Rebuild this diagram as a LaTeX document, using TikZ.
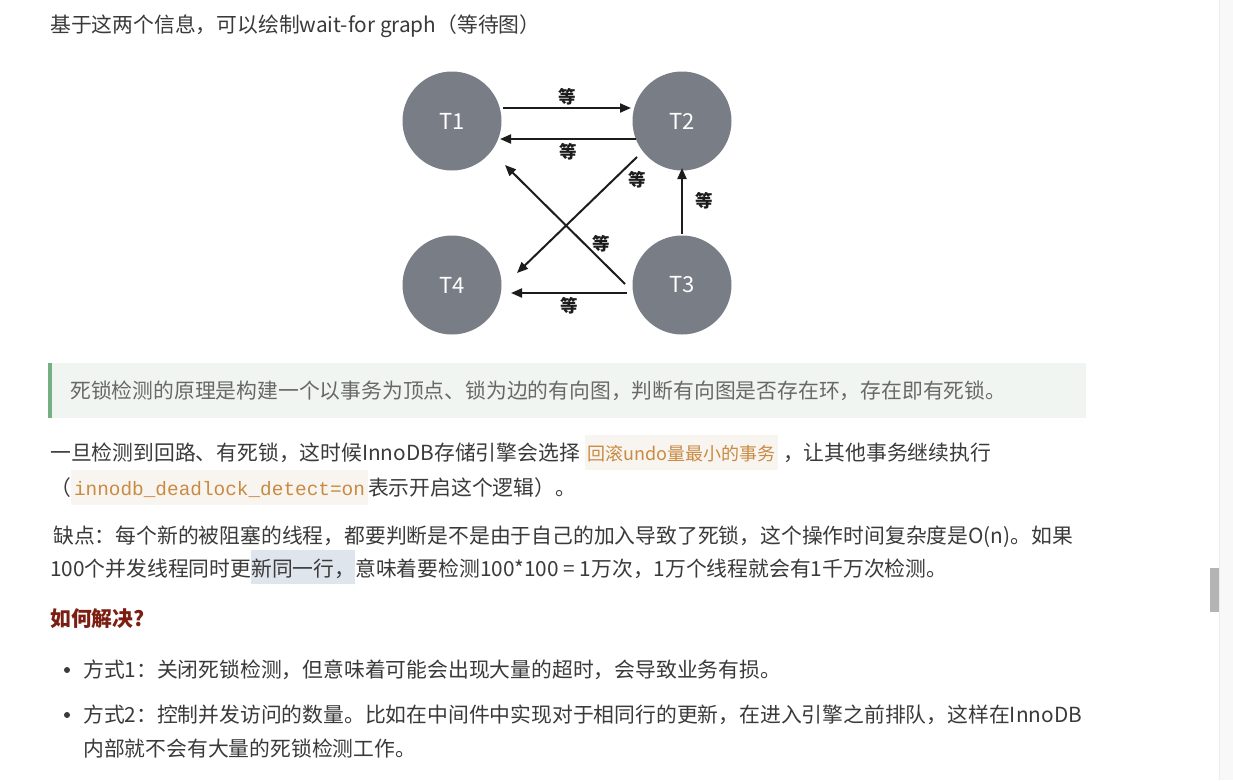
\documentclass[tikz,border=0pt]{standalone}
\usepackage{fontspec}
\setmainfont{Noto Sans CJK SC}
\newfontfamily\monofont{Liberation Mono}
\usepackage{tikz}
\usetikzlibrary{arrows.meta}

\definecolor{maintext}{HTML}{3A3A3A}
\definecolor{quotefg}{HTML}{686868}
\definecolor{quotebg}{HTML}{F1F5F2}
\definecolor{quotebar}{HTML}{74B083}
\definecolor{codebg}{HTML}{F8F5F0}
\definecolor{codefg}{HTML}{C98A42}
\definecolor{selbg}{HTML}{DFE5EC}
\definecolor{heading}{HTML}{7C1E12}
\definecolor{nodegray}{HTML}{797E86}
\definecolor{arrowblack}{HTML}{1C1C1C}
\definecolor{scrollbg}{HTML}{F8F8F8}
\definecolor{scrollline}{HTML}{ECECEC}
\definecolor{thumb}{HTML}{B4B4B4}

% inline code and selected text
\newcommand{\codebox}[1]{{\setlength{\fboxsep}{3pt}\colorbox{codebg}{\rule[-0.34em]{0pt}{1.42em}\color{codefg}#1}}}
\newcommand{\selbox}[1]{{\setlength{\fboxsep}{0pt}\colorbox{selbg}{\rule[-0.38em]{0pt}{1.62em}#1}}}

\begin{document}
\begin{tikzpicture}[x=1pt,y=-1pt,
    txt/.style={anchor=base west,inner sep=0pt,text=maintext,font=\fontsize{20.8}{25}\selectfont},
    trans/.style={circle,fill=nodegray,minimum size=99pt,inner sep=0pt,text=white,font=\fontsize{22}{26}\selectfont},
    wait/.style={-{Triangle[length=11pt,width=9pt]},line width=2pt,draw=arrowblack},
    deng/.style={inner sep=1pt,text=arrowblack,font=\fontsize{17.5}{20}\selectfont\bfseries}]
    \useasboundingbox (0,0) rectangle (1233,780);
    \fill[white] (0,0) rectangle (1233,780);

    % scroll bar
    \fill[scrollbg] (1219,0) rectangle (1233,780);
    \draw[scrollline] (1219,0) -- (1219,780);
    \fill[thumb] (1210,568) rectangle (1219,612);

    \node[txt] (intro) at (50,32) {基于这两个信息，可以绘制wait-for graph（等待图）};

    % wait-for graph
    \node[trans] (T1) at (452,121) {T1};
    \node[trans] (T2) at (682,121) {T2};
    \node[trans] (T3) at (682,285) {T3};
    \node[trans] (T4) at (452,285) {T4};

    \draw[wait] ([shift={(51,-13)}]T1.center) -- ([shift={(-51,-13)}]T2.center) node[deng,midway,above=1pt] {等};
    \draw[wait] ([shift={(-46,18)}]T2.center) -- ([shift={(48,18)}]T1.center) node[deng,midway,below=2pt] {等};
    \draw[wait] ([shift={(-45,36)}]T2.center) -- ([shift={(65,-12)}]T4.center) node[deng,pos=0.2,right=13pt] {等};
    \draw[wait] ([shift={(-57,-1)}]T3.center) -- ([shift={(53,44)}]T1.center) node[deng,pos=0.34,right=6pt] {等};
    \draw[wait] ([shift={(0,-51)}]T3.center) -- ([shift={(0,47)}]T2.center) node[deng,midway,right=11pt] {等};
    \draw[wait] ([shift={(-55,8)}]T3.center) -- ([shift={(59,8)}]T4.center) node[deng,midway,below=2pt] {等};

    % quote
    \fill[quotebg] (48,363) rectangle (1086,418);
    \fill[quotebar] (48,363) rectangle (52,418);
    \node[txt,text=quotefg] (principle) at (70,398) {死锁检测的原理是构建一个以事务为顶点、锁为边的有向图，判断有向图是否存在环，存在即有死锁。};

    \node[txt] (rollback) at (50,460) {一旦检测到回路、有死锁，这时候InnoDB存储引擎会选择 \codebox{\fontsize{18}{22}\selectfont 回滚undo量最小的事务} ，让其他事务继续执行};
    \node[txt] (switch) at (50,495) {（\codebox{\monofont\fontsize{19.4}{23}\selectfont innodb\_deadlock\_detect=on}表示开启这个逻辑）。};

    \node[txt] (cons) at (53,543) {缺点：每个新的被阻塞的线程，都要判断是不是由于自己的加入导致了死锁，这个操作时间复杂度是O(n)。如果};
    \node[txt] (cost) at (50,576) {100个并发线程同时更\selbox{新同一行，}意味着要检测100*100 = 1万次，1万个线程就会有1千万次检测。};

    \node[txt,text=heading,font=\fontsize{20.8}{25}\selectfont\bfseries] (howto) at (50,626) {如何解决?};

    \fill[maintext] (67,670) circle[radius=3];
    \node[txt] (way1) at (83,677) {方式1：关闭死锁检测，但意味着可能会出现大量的超时，会导致业务有损。};
    \fill[maintext] (67,715) circle[radius=3];
    \node[txt] (way2) at (83,722) {方式2：控制并发访问的数量。比如在中间件中实现对于相同行的更新，在进入引擎之前排队，这样在InnoDB};
    \node[txt] (way2b) at (83,756) {内部就不会有大量的死锁检测工作。};
\end{tikzpicture}
\end{document}
